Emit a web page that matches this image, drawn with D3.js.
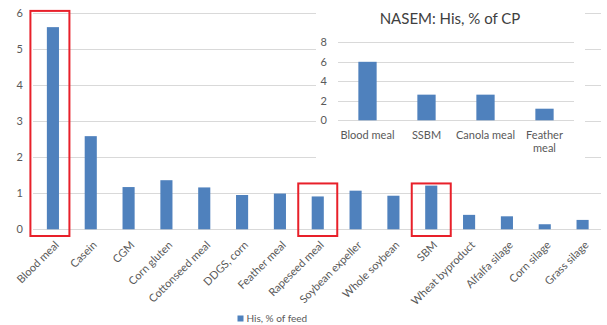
<!DOCTYPE html>
<html>
<head>
<meta charset="utf-8">
<script src="https://cdn.jsdelivr.net/npm/d3@7"></script>
<style>
  html, body { margin: 0; padding: 0; background: #fff; }
  svg { display: block; font-family: Lato, "Open Sans", sans-serif; }
</style>
</head>
<body>
<svg id="chart" width="607" height="325"></svg>
<script>
// Histidine content of feeds, % of feed
const feeds = ["Blood meal", "Casein", "CGM", "Corn gluten", "Cottonseed meal", "DDGS, corn",
  "Feather meal", "Rapeseed meal", "Soybean expeller", "Whole soybean", "SBM",
  "Wheat byproduct", "Alfalfa silage", "Corn silage", "Grass silage"];
const hisFeed = [5.6, 2.58, 1.17, 1.36, 1.16, 0.95, 0.99, 0.91, 1.07, 0.93, 1.21, 0.40, 0.36, 0.14, 0.26];
const mainTicks = [0, 1, 2, 3, 4, 5, 6];
const highlighted = ["Blood meal", "Rapeseed meal", "SBM"];

// NASEM: His, % of CP
const nasemFeeds = ["Blood meal", "SSBM", "Canola meal", "Feather meal"];
const nasemHis = [6.0, 2.63, 2.63, 1.19];
const nasemTicks = [0, 2, 4, 6, 8];

const svg = d3.select("#chart");
const grid = "#d9d9d9", textCol = "#595959", barCol = "#4f81bd";

// ---- main chart ----
const x = d3.scaleBand().domain(feeds).range([34, 601.5]).paddingInner(0.68).paddingOuter(0.34);
const y = d3.scaleLinear().domain([0, 6]).range([229.3, 12.7]);

const main = svg.append("g");
main.selectAll("line.grid").data(mainTicks).join("line")
  .attr("x1", 33).attr("x2", 601)
  .attr("y1", d => Math.round(y(d)) + 0.5).attr("y2", d => Math.round(y(d)) + 0.5)
  .attr("stroke", grid).attr("stroke-width", 1);

main.selectAll("text.ytick").data(mainTicks).join("text")
  .attr("x", 23).attr("y", d => y(d)).attr("dy", "0.35em")
  .attr("text-anchor", "end").attr("font-size", 11).attr("fill", textCol)
  .text(d => d);

main.selectAll("rect.bar").data(hisFeed).join("rect")
  .attr("x", (d, i) => x(feeds[i])).attr("width", x.bandwidth())
  .attr("y", d => y(d)).attr("height", d => y(0) - y(d))
  .attr("fill", barCol);

main.selectAll("text.xlab").data(feeds).join("text")
  .attr("text-anchor", "end").attr("font-size", 11).attr("fill", textCol)
  .attr("dy", "0.35em")
  .attr("transform", d => `translate(${x(d) + x.bandwidth() / 2 + 4},243) rotate(-45)`)
  .text(d => d);

// highlight frames
const frameW = 39;
svg.selectAll("rect.frame").data(highlighted).join("rect")
  .attr("x", d => x(d) + x.bandwidth() / 2 - frameW / 2 - (d === "Blood meal" ? 3 : 0))
  .attr("width", frameW)
  .attr("y", d => d === "Blood meal" ? y(6.05) : y(1.27))
  .attr("height", d => 236 - (d === "Blood meal" ? y(6.05) : y(1.27)))
  .attr("fill", "none").attr("stroke", "#e8202a").attr("stroke-width", 2);

// legend
const leg = svg.append("g").attr("transform", "translate(237.5,315.5)");
leg.append("rect").attr("width", 6).attr("height", 6).attr("fill", barCol);
leg.append("text").attr("x", 9).attr("y", 3).attr("dy", "0.35em")
  .attr("font-size", 10).attr("fill", textCol).text("His, % of feed");

// ---- inset chart ----
const inset = svg.append("g");
inset.append("rect").attr("x", 316).attr("y", 4).attr("width", 269).attr("height", 160).attr("fill", "#fff");
inset.append("text").attr("x", 450).attr("y", 24).attr("text-anchor", "middle")
  .attr("font-size", 15).attr("fill", "#404040").text("NASEM: His, % of CP");

const xi = d3.scaleBand().domain(nasemFeeds).range([338, 574]).paddingInner(0.69).paddingOuter(0.345);
const yi = d3.scaleLinear().domain([0, 8]).range([120.3, 42.3]);

inset.selectAll("line.grid").data(nasemTicks).join("line")
  .attr("x1", 338).attr("x2", 574)
  .attr("y1", d => Math.round(yi(d)) + 0.5).attr("y2", d => Math.round(yi(d)) + 0.5)
  .attr("stroke", grid);
inset.selectAll("text.ytick").data(nasemTicks).join("text")
  .attr("x", 327).attr("y", d => yi(d)).attr("dy", "0.35em")
  .attr("text-anchor", "end").attr("font-size", 11).attr("fill", textCol).text(d => d);
inset.selectAll("rect.bar").data(nasemHis).join("rect")
  .attr("x", (d, i) => xi(nasemFeeds[i])).attr("width", xi.bandwidth())
  .attr("y", d => yi(d)).attr("height", d => yi(0) - yi(d)).attr("fill", barCol);

const ilab = inset.selectAll("text.xlab").data(nasemFeeds).join("text")
  .attr("text-anchor", "middle").attr("font-size", 11).attr("fill", textCol)
  .attr("transform", d => `translate(${xi(d) + xi.bandwidth() / 2},139)`);
ilab.each(function (d) {
  const words = d === "Feather meal" ? ["Feather", "meal"] : [d];
  d3.select(this).selectAll("tspan").data(words).join("tspan")
    .attr("x", 0).attr("dy", (w, i) => i === 0 ? 0 : 13).text(w => w);
});
</script>
</body>
</html>
